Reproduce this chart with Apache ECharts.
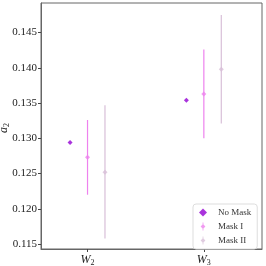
<!DOCTYPE html>
<html><head><meta charset="utf-8">
<script src="https://cdn.jsdelivr.net/npm/echarts@6/dist/echarts.min.js"></script>
<style>html,body{margin:0;padding:0;background:#fff}#c{width:266px;height:266px}</style>
</head><body><div id="c"></div>
<script>
var categories = ['W2', 'W3'];
var categoryPos = [0, 1];
var seriesNames = ['No Mask', 'Mask I', 'Mask II'];
var seriesOffsets = [-0.15, 0, 0.15];
var seriesColors = ['#9400D3', '#EE82EE', '#D8BFD8'];
var noMask = [0.1294, 0.1354];
var maskI = [0.1273, 0.1363];
var maskILow = [0.1220, 0.1300];
var maskIHigh = [0.1326, 0.1426];
var maskII = [0.1252, 0.1398];
var maskIILow = [0.1158, 0.1321];
var maskIIHigh = [0.1347, 0.1475];
var yTicks = [0.115, 0.120, 0.125, 0.130, 0.135, 0.140, 0.145];
var yLabel = ['a', '2'];

var font = 'Liberation Serif';
var chart = echarts.init(document.getElementById('c'), null, {renderer: 'canvas'});

function pts(vals, k) {
  return vals.map(function (v, i) { return [categoryPos[i] + seriesOffsets[k], v]; });
}
function errs(lo, hi, k) {
  return lo.map(function (v, i) { return [categoryPos[i] + seriesOffsets[k], v, hi[i]]; });
}
function errSeries(lo, hi, k) {
  return {
    type: 'custom', name: seriesNames[k] + ' err', data: errs(lo, hi, k), z: 2,
    itemStyle: {color: seriesColors[k]},
    renderItem: function (params, api) {
      var a = api.coord([api.value(0), api.value(1)]);
      var b = api.coord([api.value(0), api.value(2)]);
      return {type: 'line', shape: {x1: a[0], y1: a[1], x2: b[0], y2: b[1]},
        style: {stroke: seriesColors[k], lineWidth: 1.2}};
    },
    silent: true
  };
}
var diamond = 'path://M5,2L8,5L5,8L2,5Z';
var diamondBar = 'path://M4.5,0h1v10h-1z M5,2L8,5L5,8L2,5Z';

var option = {
  animation: false,
  grid: {left: 41, right: 4, top: 3, bottom: 17, outerBoundsMode: 'none', containLabel: false, show: true, borderColor: '#666', borderWidth: 1},
  graphic: [{
    type: 'text', x: 4, y: 128, rotation: Math.PI / 2,
    style: {
      text: '{i|' + yLabel[0] + '}{s|' + yLabel[1] + '}', align: 'center', verticalAlign: 'middle',
      rich: {
        i: {fontFamily: font, fontStyle: 'italic', fontSize: 12, fill: '#222'},
        s: {fontFamily: font, fontSize: 8, fill: '#222', padding: [6, 0, 0, 0]}
      }
    }
  }],
  xAxis: {
    type: 'value', min: -0.4, max: 1.5,
    splitLine: {show: false},
    axisLine: {onZero: false, lineStyle: {color: '#666'}},
    axisTick: {show: true, customValues: categoryPos, length: 3, lineStyle: {color: '#444'}},
    axisLabel: {
      customValues: categoryPos, margin: 4,
      formatter: function (v) { var i = categoryPos.indexOf(v); var c = categories[i]; return '{i|' + c[0] + '}{s|' + c.slice(1) + '}'; },
      rich: {
        i: {fontFamily: font, fontStyle: 'italic', fontSize: 12, color: '#222'},
        s: {fontFamily: font, fontSize: 8, color: '#222', verticalAlign: 'bottom', padding: [6, 0, 0, 0]}
      }
    }
  },
  yAxis: {
    type: 'value', min: 0.1143, max: 0.1492,
    splitLine: {show: false},
    axisLine: {onZero: false, lineStyle: {color: '#666'}},
    axisTick: {show: true, customValues: yTicks, length: 3, lineStyle: {color: '#444'}},
    axisLabel: {
      customValues: yTicks, margin: 4, fontFamily: font, fontSize: 11, color: '#222',
      formatter: function (v) { return v.toFixed(3); }
    }
  },
  legend: {
    orient: 'vertical', left: 193, top: 204,
    itemWidth: 8, itemHeight: 8, itemGap: 5,
    padding: [4, 6, 4, 6],
    borderColor: '#ddd', borderWidth: 1, borderRadius: 3, backgroundColor: '#fff',
    textStyle: {fontFamily: font, fontSize: 9, color: '#333', padding: [0, 0, 0, 6]},
    data: [
      {name: seriesNames[0], icon: diamond},
      {name: seriesNames[1], icon: diamondBar},
      {name: seriesNames[2], icon: diamondBar}
    ]
  },
  series: [
    errSeries(maskILow, maskIHigh, 1),
    errSeries(maskIILow, maskIIHigh, 2),
    {type: 'scatter', name: seriesNames[0], data: pts(noMask, 0), symbol: 'diamond', symbolSize: 5, itemStyle: {color: seriesColors[0]}, z: 3},
    {type: 'scatter', name: seriesNames[1], data: pts(maskI, 1), symbol: 'diamond', symbolSize: 5, itemStyle: {color: seriesColors[1]}, z: 3},
    {type: 'scatter', name: seriesNames[2], data: pts(maskII, 2), symbol: 'diamond', symbolSize: 5, itemStyle: {color: seriesColors[2]}, z: 3}
  ]
};
chart.setOption(option);
</script></body></html>
